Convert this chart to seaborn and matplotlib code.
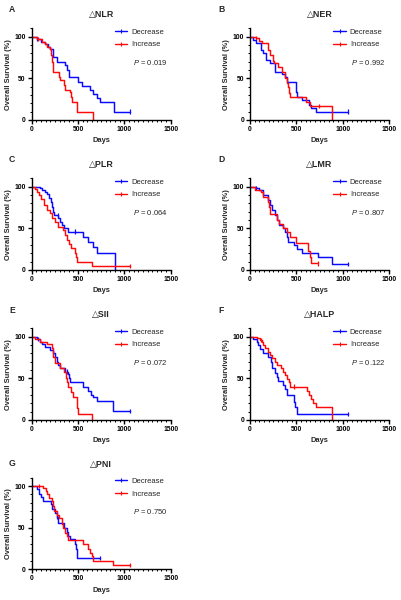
import numpy as np
import pandas as pd
import matplotlib
matplotlib.use("Agg")
import matplotlib.pyplot as plt
from matplotlib.lines import Line2D
from matplotlib.ticker import MultipleLocator
import seaborn as sns

# ---------------- data (step curves: days, survival %) ----------------
NLR_dec_days = [0, 55, 100, 145, 180, 200, 235, 270, 360, 380, 405, 505, 540, 630, 665, 710, 740, 885, 1060]
NLR_dec_surv = [100, 97, 94, 91, 88, 85, 76, 70, 66, 60, 51, 46, 41, 36, 31, 26, 21, 10, 10]
NLR_inc_days = [0, 55, 110, 140, 165, 195, 210, 220, 232, 290, 300, 350, 360, 410, 420, 440, 485, 660]
NLR_inc_surv = [100, 97, 94, 91, 88, 85, 78, 70, 58, 52, 48, 42, 36, 33, 27, 21, 10, 0]
NLR_dec_cens = [60, 1060]
NLR_inc_cens = [70]

NER_dec_days = [0, 36, 60, 120, 135, 175, 215, 265, 340, 375, 400, 495, 505, 560, 640, 660, 707, 1060]
NER_dec_surv = [100, 96, 92, 84, 80, 72, 68, 58, 55, 51, 45, 33, 27, 24, 18, 14, 10, 10]
NER_inc_days = [0, 60, 100, 125, 196, 215, 243, 260, 300, 340, 375, 400, 410, 421, 436, 607, 650, 890]
NER_inc_surv = [100, 98, 95, 92, 84, 78, 71, 68, 63, 58, 50, 44, 39, 32, 27, 22, 17, 0]
NER_dec_cens = [1060]
NER_inc_cens = [60, 740]

PLR_dec_days = [0, 90, 108, 144, 162, 190, 205, 216, 227, 245, 288, 306, 324, 350, 380, 396, 558, 612, 666, 709, 900]
PLR_dec_surv = [100, 98, 96, 93, 91, 86, 82, 76, 70, 66, 62, 58, 54, 50, 50, 46, 40, 33, 27, 20, 0]
PLR_inc_days = [0, 36, 54, 83, 97, 133, 162, 198, 216, 252, 288, 342, 360, 378, 407, 425, 470, 479, 493, 648, 1060]
PLR_inc_surv = [100, 97, 94, 90, 85, 78, 72, 68, 62, 58, 52, 48, 42, 36, 31, 26, 20, 15, 10, 5, 5]
PLR_dec_cens = [280, 470]
PLR_inc_cens = [1060]

LMR_dec_days = [0, 60, 100, 143, 197, 215, 233, 269, 287, 312, 359, 377, 402, 413, 474, 503, 556, 736, 890, 1060]
LMR_dec_surv = [100, 98, 96, 90, 84, 78, 72, 66, 60, 54, 50, 46, 40, 34, 30, 25, 20, 15, 7, 7]
LMR_inc_days = [0, 55, 120, 135, 190, 205, 221, 286, 311, 357, 400, 428, 500, 625, 643, 660, 735]
LMR_inc_surv = [100, 96, 93, 88, 82, 75, 67, 60, 55, 50, 46, 40, 32, 23, 15, 8, 8]
LMR_dec_cens = [60, 1060]
LMR_inc_cens = [735]

SII_dec_days = [0, 54, 90, 108, 144, 198, 234, 252, 270, 281, 306, 360, 396, 407, 414, 558, 612, 637, 659, 702, 882, 1060]
SII_dec_surv = [100, 97, 94, 91, 88, 84, 80, 75, 70, 66, 62, 58, 55, 50, 46, 40, 35, 30, 27, 23, 11, 11]
SII_inc_days = [0, 40, 90, 162, 216, 234, 252, 306, 349, 367, 378, 396, 421, 450, 486, 493, 504, 655]
SII_inc_surv = [100, 97, 94, 91, 86, 75, 68, 62, 57, 50, 45, 40, 33, 28, 20, 14, 7, 0]
SII_dec_cens = [70, 380, 1060]
SII_inc_cens = []

HALP_dec_days = [0, 36, 72, 90, 108, 143, 197, 222, 240, 269, 287, 305, 359, 377, 402, 474, 485, 503, 1060]
HALP_dec_surv = [100, 97, 94, 90, 85, 80, 76, 70, 62, 56, 52, 47, 42, 37, 30, 22, 15, 7, 7]
HALP_inc_days = [0, 72, 108, 126, 144, 161, 197, 215, 233, 269, 287, 330, 352, 377, 402, 424, 431, 610, 635, 660, 678, 714, 890]
HALP_inc_surv = [100, 98, 96, 93, 90, 86, 82, 78, 74, 70, 66, 62, 58, 54, 49, 45, 40, 35, 30, 25, 20, 15, 0]
HALP_dec_cens = [1060]
HALP_inc_cens = [120, 470]

PNI_dec_days = [0, 54, 83, 97, 119, 205, 216, 252, 270, 288, 349, 378, 396, 414, 470, 479, 486, 493, 735]
PNI_dec_surv = [100, 96, 91, 87, 82, 78, 73, 68, 63, 56, 50, 45, 40, 36, 30, 25, 20, 14, 14]
PNI_inc_days = [0, 126, 155, 169, 191, 216, 234, 245, 270, 299, 324, 342, 360, 385, 396, 551, 612, 630, 648, 666, 882, 1060]
PNI_inc_surv = [100, 98, 94, 90, 86, 82, 76, 70, 65, 62, 55, 50, 44, 40, 35, 30, 25, 20, 16, 10, 5, 5]
PNI_dec_cens = [270, 735]
PNI_inc_cens = [80, 1060]

panel_letters = ["A", "B", "C", "D", "E", "F", "G"]
panel_titles = ["△NLR", "△NER", "△PLR", "△LMR", "△SII", "△HALP", "△PNI"]
p_values = ["0.019", "0.992", "0.064", "0.807", "0.072", "0.122", "0.750"]
x_ticks = [0, 500, 1000, 1500]
y_ticks = [0, 50, 100]
groups = ["Decrease", "Increase"]

series = [
    (NLR_dec_days, NLR_dec_surv, NLR_inc_days, NLR_inc_surv, NLR_dec_cens, NLR_inc_cens),
    (NER_dec_days, NER_dec_surv, NER_inc_days, NER_inc_surv, NER_dec_cens, NER_inc_cens),
    (PLR_dec_days, PLR_dec_surv, PLR_inc_days, PLR_inc_surv, PLR_dec_cens, PLR_inc_cens),
    (LMR_dec_days, LMR_dec_surv, LMR_inc_days, LMR_inc_surv, LMR_dec_cens, LMR_inc_cens),
    (SII_dec_days, SII_dec_surv, SII_inc_days, SII_inc_surv, SII_dec_cens, SII_inc_cens),
    (HALP_dec_days, HALP_dec_surv, HALP_inc_days, HALP_inc_surv, HALP_dec_cens, HALP_inc_cens),
    (PNI_dec_days, PNI_dec_surv, PNI_inc_days, PNI_inc_surv, PNI_dec_cens, PNI_inc_cens),
]

# ---------------- style ----------------
sns.set_theme(style="ticks")
plt.rcParams["font.family"] = ["Liberation Sans", "DejaVu Sans"]
plt.rcParams["mathtext.fontset"] = "custom"
plt.rcParams["mathtext.it"] = "Liberation Sans:italic"
plt.rcParams["mathtext.rm"] = "Liberation Sans"

palette = {"Decrease": "#0a0aff", "Increase": "#ff0a0a"}

fig = plt.figure(figsize=(4.01, 6.0), dpi=100)

col_left = [31.7 / 401, 250 / 401]
ax_w = 139 / 401
row_bottom = [0.80, 0.55, 0.30, 0.051]
ax_h = 91.7 / 600
label_y_px = [10, 160, 310, 463]
label_x_px = [9, 218]


def step_value(days, surv, t):
    idx = np.searchsorted(days, t, side="right") - 1
    return surv[max(idx, 0)]


for i, (dd, ds, idays, isurv, dc, ic) in enumerate(series):
    r, c = divmod(i, 2)
    ax = fig.add_axes([col_left[c], row_bottom[r], ax_w, ax_h])

    df = pd.concat([
        pd.DataFrame({"days": dd, "surv": ds, "group": "Decrease"}),
        pd.DataFrame({"days": idays, "surv": isurv, "group": "Increase"}),
    ], ignore_index=True)
    sns.lineplot(data=df, x="days", y="surv", hue="group", hue_order=groups,
                 palette=palette, drawstyle="steps-post", estimator=None,
                 sort=False, linewidth=1.05, ax=ax, legend=False)

    cens = pd.DataFrame({
        "days": list(dc) + list(ic),
        "surv": [step_value(dd, ds, t) for t in dc] + [step_value(idays, isurv, t) for t in ic],
        "group": ["Decrease"] * len(dc) + ["Increase"] * len(ic),
    })
    if len(cens):
        sns.scatterplot(data=cens, x="days", y="surv", hue="group", hue_order=groups,
                        palette=palette, marker="|", s=10, linewidth=0.9,
                        ax=ax, legend=False, clip_on=False)

    ax.set_xlim(0, 1500)
    ax.set_ylim(0, 110)
    ax.set_xticks(x_ticks)
    ax.set_yticks(y_ticks)
    ax.xaxis.set_minor_locator(MultipleLocator(50))
    ax.yaxis.set_minor_locator(MultipleLocator(10))
    sns.despine(ax=ax)
    for s in ["left", "bottom"]:
        ax.spines[s].set_linewidth(1.0)
        ax.spines[s].set_color("black")
    ax.tick_params(axis="both", which="major", direction="out", length=2.8, width=1.0,
                   labelsize=4.9, pad=1.5, colors="black")
    ax.tick_params(axis="both", which="minor", direction="out", length=1.5, width=0.7,
                   colors="black")
    for lab in ax.get_xticklabels() + ax.get_yticklabels():
        lab.set_fontweight("bold")
    ax.set_xlabel("Days", fontsize=5.4, fontweight="bold", labelpad=3)
    ax.set_ylabel("Overall Survival (%)", fontsize=5.4, fontweight="bold", labelpad=2)
    ax.set_title(panel_titles[i], fontsize=6.4, fontweight="bold", pad=8)

    handles = [Line2D([], [], color=palette[g], lw=1.0, marker="|", markersize=2.5,
                      markeredgewidth=0.8) for g in groups]
    ax.legend(handles, groups, loc="upper left", bbox_to_anchor=(0.6, 1.0),
              frameon=False, fontsize=5.5, handlelength=1.6, handletextpad=0.55,
              labelspacing=0.7, borderaxespad=0, borderpad=0)
    ax.text(0.73, 0.63, r"$\it{P}$ = " + p_values[i], transform=ax.transAxes,
            fontsize=5.5, va="center", ha="left")

    fig.text(label_x_px[c] / 401, 1 - label_y_px[r] / 600, panel_letters[i],
             fontsize=6.2, fontweight="bold", va="center", ha="left")

fig.savefig("out.png", dpi=100)
